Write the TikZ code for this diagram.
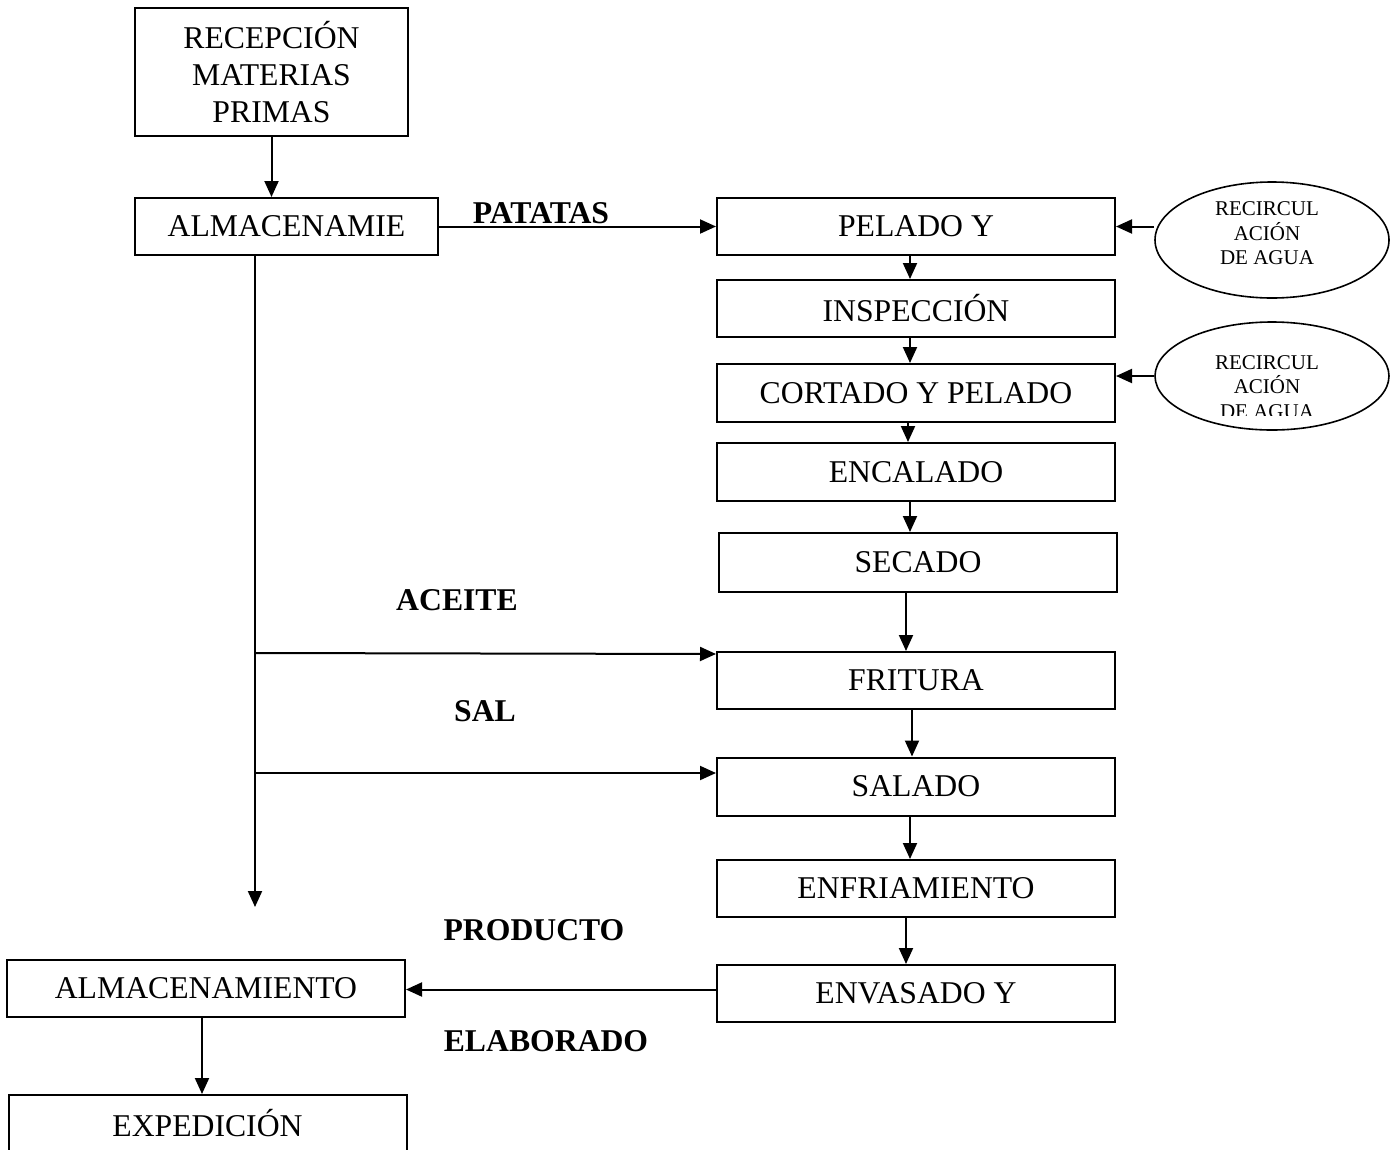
\documentclass[tikz,border=0pt]{standalone}
\usepackage{fontspec}
\setmainfont{Liberation Serif}
\usetikzlibrary{arrows.meta,shapes.geometric}

\tikzset{
  proc/.style={draw, line width=2pt, rectangle, inner sep=0pt,
    minimum width=398pt, minimum height=57pt, align=center,
    font=\fontsize{31.7}{37}\selectfont},
  recirc/.style={draw, line width=1.6pt, ellipse, inner sep=0pt,
    minimum width=234pt, minimum height=116pt},
  rectxt/.style={align=center, inner sep=0pt,
    font=\fontsize{21}{24.5}\selectfont},
  lbl/.style={inner sep=0pt, font=\fontsize{31.7}{37}\selectfont\bfseries},
  flecha/.style={line width=2pt, -{Triangle[length=16pt,width=14pt]}}
}

\begin{document}
\begin{tikzpicture}[x=1pt,y=-1pt]
  \useasboundingbox (0,0) rectangle (1392,1149);
  \clip (0,0) rectangle (1392,1149);

  % left column
  \node[proc, minimum width=273pt, minimum height=128pt] (recep) at (271.5,72)
    {RECEPCIÓN\\MATERIAS\\PRIMAS};
  \node[proc, minimum width=303pt] (alm) at (286.5,226.5) {ALMACENAMIE};
  \node[proc] (almfin) at (206,988.5) {ALMACENAMIENTO};
  \node[proc, minimum height=56pt] (exped) at (207.5,1123) {EXPEDICIÓN};

  % process line
  \node[proc] (pelado)  at (916,226.5) {PELADO Y};
  \node[proc] (insp)    at (916,308.5) {INSPECCIÓN};
  \node[proc, minimum height=58pt] (cortado) at (916,393) {CORTADO Y PELADO};
  \node[proc, minimum height=58pt] (encal)   at (916,472) {ENCALADO};
  \node[proc, minimum height=59pt] (secado)  at (918,562.5) {SECADO};
  \node[proc] (fritura) at (916,680.5) {FRITURA};
  \node[proc, minimum height=58pt] (salado)  at (916,786.5) {SALADO};
  \node[proc] (enfri)   at (916,888.5) {ENFRIAMIENTO};
  \node[proc] (envas)   at (916,993.5) {ENVASADO Y};

  % water recirculation
  \node[recirc] (rec1) at (1272,240) {};
  \node[rectxt] (rec1txt) at (1267,233.5) {RECIRCUL\\ACIÓN\\DE AGUA};
  \node[recirc, minimum height=108pt] (rec2) at (1272,376) {};
  \begin{scope}
    \clip (1150,330) rectangle (1395,415);
    \node[rectxt] (rec2txt) at (1267,387) {RECIRCUL\\ACIÓN\\DE AGUA};
  \end{scope}

  % labels
  \node[lbl] (patatas)   at (541,213)  {PATATAS};
  \node[lbl] (aceite)    at (457,600)  {ACEITE};
  \node[lbl] (sal)       at (485,711)  {SAL};
  \node[lbl] (producto)  at (534,930)  {PRODUCTO};
  \node[lbl] (elaborado) at (546,1041) {ELABORADO};

  % connectors
  \coordinate (trunk)   at (255,907);
  \coordinate (jaceite) at (255,653);
  \coordinate (jsal)    at (255,773);
  \draw[flecha] (recep.south) -- (recep.south |- alm.north);
  \draw[flecha] (alm.east) -- (pelado.west);
  \draw[flecha] (alm.south -| trunk) -- (trunk);
  \draw[flecha] (jaceite) -- ([yshift=-3pt]fritura.north west);
  \draw[flecha] (jsal) -- (jsal -| salado.west);
  \draw[flecha] (rec1.west |- pelado.east) -- (pelado.east);
  \draw[flecha] (rec2.west) -- (rec2.west -| cortado.east);
  \foreach \a/\b/\xx in {pelado/insp/910, insp/cortado/910, cortado/encal/908,
      encal/secado/910, secado/fritura/906, fritura/salado/912,
      salado/enfri/910, enfri/envas/906}
    \draw[flecha] (\a.south -| \xx,0) -- (\b.north -| \xx,0);
  \draw[flecha] ([yshift=4pt]envas.west) -- ([yshift=4pt]envas.west -| almfin.east);
  \draw[flecha] ([xshift=-4pt]almfin.south) -- ([xshift=-4pt]almfin.south |- exped.north);
\end{tikzpicture}
\end{document}
